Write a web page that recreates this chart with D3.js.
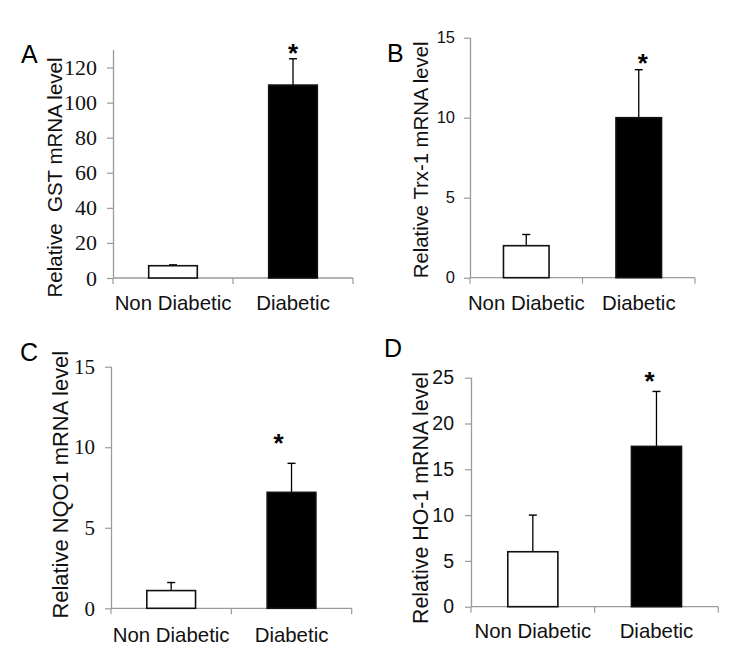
<!DOCTYPE html>
<html>
<head>
<meta charset="utf-8">
<script src="https://cdn.jsdelivr.net/npm/d3@7"></script>
<style>
  html, body { margin: 0; padding: 0; background: #fff; }
  svg { display: block; }
</style>
</head>
<body>
<svg id="chart" width="733" height="649"></svg>
<script>
// ---------------- data ----------------
const categories = ["Non Diabetic", "Diabetic"];

const gstMean = [7, 110];
const gstErr  = [0.5, 15];
const gstTicks = [0, 20, 40, 60, 80, 100, 120];

const trxMean = [2.0, 10.0];
const trxErr  = [0.7, 3.0];
const trxTicks = [0, 5, 10, 15];

const nqoMean = [1.1, 7.2];
const nqoErr  = [0.5, 1.8];
const nqoTicks = [0, 5, 10, 15];

const hoMean = [6.0, 17.5];
const hoErr  = [4.0, 6.0];
const hoTicks = [0, 5, 10, 15, 20, 25];

const significant = [false, true];
const barFills = ["#ffffff", "#000000"];

const panelLetters = ["A", "B", "C", "D"];
const yLabels = [
  "Relative  GST mRNA level",
  "Relative Trx-1 mRNA level",
  "Relative NQO1 mRNA level",
  "Relative HO-1 mRNA level"
];

// ---------------- layout ----------------
const SANS = "'Liberation Sans', Arial, sans-serif";
const SERIF = "'Liberation Serif', 'Times New Roman', serif";
const AXIS = "#9a9a9a";

const panels = [
  { mean: gstMean, err: gstErr, ticks: gstTicks, yMax: 130,
    left: 113, right: 353, top: 50, bottom: 278,
    tickFont: SERIF, tickSize: 22, tickLen: 6, tickPad: 10,
    ylx: 62, yly: 177.5, ylSize: 20.5,
    letterX: 21, letterY: 63, xlabY: 310, starDx: 0, starGap: 11 },
  { mean: trxMean, err: trxErr, ticks: trxTicks, yMax: 15,
    left: 470, right: 695, top: 37.7, bottom: 277.7,
    tickFont: SANS, tickSize: 16.5, tickLen: 6, tickPad: 9,
    ylx: 428, yly: 159.8, ylSize: 20.3,
    letterX: 387, letterY: 62, xlabY: 310, starDx: 4, starGap: 12 },
  { mean: nqoMean, err: nqoErr, ticks: nqoTicks, yMax: 15,
    left: 111, right: 351.7, top: 366.7, bottom: 608.3,
    tickFont: SERIF, tickSize: 21, tickLen: 6, tickPad: 10,
    ylx: 68, yly: 484.7, ylSize: 21.9,
    letterX: 20, letterY: 361, xlabY: 641.5, starDx: -13, starGap: 25 },
  { mean: hoMean, err: hoErr, ticks: hoTicks, yMax: 25,
    left: 471, right: 718.3, top: 377.7, bottom: 606.7,
    tickFont: SANS, tickSize: 19.5, tickLen: 6, tickPad: 11,
    ylx: 428, yly: 498, ylSize: 21.4,
    letterX: 384, letterY: 357, xlabY: 638, starDx: -7, starGap: 15 }
];

const svg = d3.select("#chart");

panels.forEach((p, i) => {
  const g = svg.append("g");

  const x = d3.scaleBand().domain(categories).range([p.left, p.right]).padding(0);
  const y = d3.scaleLinear().domain([0, p.yMax]).range([p.bottom, p.top]);
  const bw = x.bandwidth() * 0.405;

  // y axis
  const yAxis = d3.axisLeft(y).tickValues(p.ticks).tickSizeOuter(0)
    .tickSize(p.tickLen).tickPadding(p.tickPad).tickFormat(d3.format("d"));
  const ya = g.append("g").attr("transform", `translate(${p.left},0)`).call(yAxis);
  ya.attr("font-family", p.tickFont).attr("font-size", p.tickSize);
  ya.select(".domain").attr("stroke", AXIS).attr("stroke-width", 1.3)
    .attr("d", `M0.5,${p.bottom}V${p.top}`);
  ya.selectAll(".tick line").attr("stroke", AXIS).attr("stroke-width", 1.2);
  ya.selectAll(".tick text").attr("fill", "#111")
    .style("font-family", p.tickFont).style("font-size", p.tickSize + "px");

  // x axis line and category boundary ticks
  g.append("line").attr("x1", p.left).attr("x2", p.right)
    .attr("y1", p.bottom).attr("y2", p.bottom)
    .attr("stroke", AXIS).attr("stroke-width", 1.3);
  const edges = categories.map(c => x(c)).concat([x(categories[categories.length - 1]) + x.bandwidth()]);
  g.selectAll(".xt").data(edges).enter().append("line")
    .attr("x1", d => d).attr("x2", d => d)
    .attr("y1", p.bottom).attr("y2", p.bottom + 6)
    .attr("stroke", AXIS).attr("stroke-width", 1.2);

  // category labels
  g.selectAll(".xl").data(categories).enter().append("text")
    .attr("x", d => x(d) + x.bandwidth() / 2)
    .attr("y", p.xlabY)
    .attr("text-anchor", "middle")
    .style("font-family", SANS).style("font-size", "20.4px").attr("fill", "#111")
    .text(d => d);

  // error bars (upper only)
  const rows = categories.map((c, k) => ({ c, m: p.mean[k], e: p.err[k], k }));
  g.selectAll(".eb").data(rows).enter().append("line")
    .attr("x1", d => x(d.c) + x.bandwidth() / 2)
    .attr("x2", d => x(d.c) + x.bandwidth() / 2)
    .attr("y1", d => y(d.m)).attr("y2", d => y(d.m + d.e))
    .attr("stroke", "#000").attr("stroke-width", 1.3);
  g.selectAll(".ec").data(rows).enter().append("line")
    .attr("x1", d => x(d.c) + x.bandwidth() / 2 - 4)
    .attr("x2", d => x(d.c) + x.bandwidth() / 2 + 4)
    .attr("y1", d => y(d.m + d.e)).attr("y2", d => y(d.m + d.e))
    .attr("stroke", "#000").attr("stroke-width", 1.4);

  // bars
  g.selectAll(".bar").data(rows).enter().append("rect")
    .attr("x", d => x(d.c) + (x.bandwidth() - bw) / 2)
    .attr("width", bw)
    .attr("y", d => y(d.m))
    .attr("height", d => y(0) - y(d.m))
    .attr("fill", d => barFills[d.k])
    .attr("stroke", "#111").attr("stroke-width", 1.6);

  // significance stars
  g.selectAll(".star").data(rows.filter(d => significant[d.k])).enter().append("text")
    .attr("x", d => x(d.c) + x.bandwidth() / 2 + p.starDx)
    .attr("y", d => y(d.m + d.e) - p.starGap + 14)
    .attr("text-anchor", "middle")
    .style("font-family", SANS).style("font-size", "26px").style("font-weight", "bold")
    .attr("fill", "#000")
    .text("*");

  // y label
  g.append("text")
    .attr("transform", `translate(${p.ylx},${p.yly}) rotate(-90)`)
    .attr("text-anchor", "middle")
    .attr("xml:space", "preserve")
    .style("white-space", "pre")
    .style("font-family", SANS).style("font-size", p.ylSize + "px").attr("fill", "#111")
    .text(yLabels[i]);

  // panel letter
  g.append("text")
    .attr("x", p.letterX).attr("y", p.letterY)
    .style("font-family", SANS).style("font-size", "25px").attr("fill", "#000")
    .text(panelLetters[i]);
});
</script>
</body>
</html>
